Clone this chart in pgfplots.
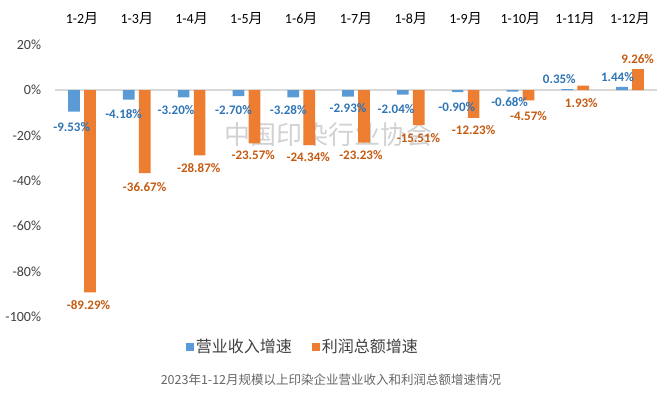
\documentclass[border=0pt]{standalone}
\usepackage{pgfplots}
\usepackage{pgfplotstable}
\pgfplotsset{compat=1.18}
\usepackage{fontspec}
\setmainfont{Carlito}
\newfontfamily\cjk{Noto Sans CJK SC}
\definecolor{cblue}{HTML}{5B9BD5}
\definecolor{corange}{HTML}{ED7D31}
\definecolor{lblue}{HTML}{2E75B6}
\definecolor{lorange}{HTML}{C55A11}
\definecolor{zline}{HTML}{D9D9D9}
\definecolor{tickc}{HTML}{404040}
\definecolor{capc}{HTML}{666666}

\pgfplotstableread{
x rev rdx rdy prof pdx pdy
0 -9.53 -2.3 -15.1 -89.29 -1.5 -12.6
1 -4.18 -5.2 -14.5 -36.67 -0.2 -14.2
2 -3.20 -7.6 -12.7 -28.87 -0.9 -12.3
3 -2.70 -5.0 -13.9 -23.57 -1.2 -11.6
4 -3.28 -5.0 -12.6 -24.34 -1.0 -11.5
5 -2.93 0.0 -11.7 -23.23 -3.1 -12.3
6 -2.04 -6.8 -14.7 -15.51 -0.3 -13.1
7 -0.90 -0.8 -14.7 -12.23 0.0 -12.3
8 -0.68 -2.8 -10.8 -4.57 0.1 -15.6
9 0.35 -7.9 10.2 1.93 -1.9 -17.7
10 1.44 -4.6 9.4 9.26 -0.4 10.0
}\data

\begin{document}
\begin{tikzpicture}
\useasboundingbox (-54.6pt,-78.3pt) rectangle (616.4pt,316.7pt);
\begin{axis}[
  at={(0,0)}, anchor=south west,
  scale only axis, width=602.8pt, height=272pt,
  ybar=4.3pt, bar width=11.7pt,
  xmin=-0.5, xmax=10.5, ymin=-100, ymax=20,
  xtick={0,...,10},
  xticklabels={1-2{\cjk 月},1-3{\cjk 月},1-4{\cjk 月},1-5{\cjk 月},1-6{\cjk 月},1-7{\cjk 月},1-8{\cjk 月},1-9{\cjk 月},1-10{\cjk 月},1-11{\cjk 月},1-12{\cjk 月}},
  xticklabel pos=upper,
  xticklabel style={anchor=center, yshift=21.7pt, font=\fontsize{14}{14}\selectfont, text=black},
  ytick={-100,-80,-60,-40,-20,0,20},
  yticklabels={-100\%,-80\%,-60\%,-40\%,-20\%,0\%,20\%},
  yticklabel style={anchor=east, xshift=-10pt, font=\fontsize{14}{14}\selectfont, text=tickc},
  axis line style={draw=none},
  major tick style={draw=none},
  extra y ticks={0}, extra y tick labels={},
  extra y tick style={grid=major, major grid style={zline, line width=1.2pt}, major tick style={draw=none}},
  legend style={at={(0.412,-0.111)}, anchor=center, draw=none, fill=none, legend columns=2,
    font=\cjk\fontsize{16}{16}\selectfont, text=tickc,
    /tikz/every even column/.append style={column sep=18pt}},
  legend image code/.code={\fill[#1, draw=none] (0pt,-4pt) rectangle (8pt,4pt);},
  clip=false,
]
\node[text=gray!35, font=\cjk\fontsize{26}{26}\selectfont] at (axis cs:4.49,-19.85) {中国印染行业协会};

\addplot[fill=cblue, draw=none,
  point meta=explicit symbolic,
  nodes near coords={\pgfplotspointmeta\%},
  nodes near coords align=center,
  visualization depends on={\thisrow{rdx} \as \dx},
  visualization depends on={\thisrow{rdy} \as \dy},
  every node near coord/.append style={anchor=center, inner sep=0pt, font=\bfseries\fontsize{13}{13}\selectfont, text=lblue, xshift=\dx pt, yshift=\dy pt},
] table[x=x, y=rev, meta=rev] {\data};
\addlegendentry{营业收入增速}

\addplot[fill=corange, draw=none,
  point meta=explicit symbolic,
  nodes near coords={\pgfplotspointmeta\%},
  nodes near coords align=center,
  visualization depends on={\thisrow{pdx} \as \dx},
  visualization depends on={\thisrow{pdy} \as \dy},
  every node near coord/.append style={anchor=center, inner sep=0pt, font=\bfseries\fontsize{13}{13}\selectfont, text=lorange, xshift=\dx pt, yshift=\dy pt},
] table[x=x, y=prof, meta=prof] {\data};
\addlegendentry{利润总额增速}

\node[font=\cjk\fontsize{12.5}{12.5}\selectfont, text=capc] at (axis description cs:0.4585,-0.2327) {2023年1-12月规模以上印染企业营业收入和利润总额增速情况};
\end{axis}
\end{tikzpicture}
\end{document}
